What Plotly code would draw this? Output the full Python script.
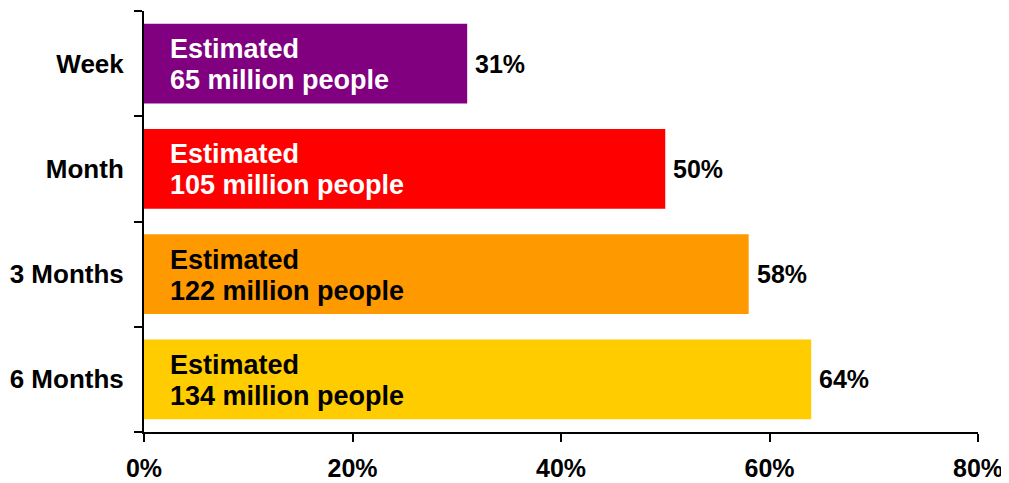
import plotly.graph_objects as go

categories = ["Week", "Month", "3 Months", "6 Months"]
values = [31, 50, 58, 64]
people_millions = [65, 105, 122, 134]
bar_colors = ["#800080", "#FF0000", "#FF9900", "#FFCC00"]
inner_text_colors = ["white", "white", "black", "black"]
x_ticks = [0, 20, 40, 60, 80]

FONT = "Liberation Sans, Arial, sans-serif"

fig = go.Figure()
fig.add_trace(go.Bar(
    y=categories, x=values, orientation="h",
    marker=dict(color=bar_colors, line=dict(width=0)),
    hoverinfo="skip",
))

annotations = []
for cat, v, p, tc in zip(categories, values, people_millions, inner_text_colors):
    for line, ys in (("Estimated", 14.5), (f"{p} million people", -16.5)):
        annotations.append(dict(
            x=0, y=cat, xref="x", yref="y", xanchor="left", yanchor="middle",
            xshift=24, yshift=ys, showarrow=False, align="left",
            text=f"<b>{line}</b>",
            font=dict(family=FONT, size=27, color=tc),
        ))
    annotations.append(dict(
        x=v, y=cat, xref="x", yref="y", xanchor="left", yanchor="middle",
        xshift=6, showarrow=False,
        text=f"<b>{v}%</b>",
        font=dict(family=FONT, size=25, color="black"),
    ))

fig.update_layout(
    width=1001, height=475,
    margin=dict(l=136, r=31, t=3, b=51),
    plot_bgcolor="white", paper_bgcolor="white",
    bargap=0.24,
    showlegend=False,
    annotations=annotations,
    font=dict(family=FONT, size=25, color="black"),
)
fig.update_xaxes(
    range=[0, 80], tickvals=x_ticks, ticktext=[f"<b>{t}%</b>" for t in x_ticks],
    showgrid=False, zeroline=False, showline=True, linecolor="black", linewidth=2,
    ticks="outside", ticklen=8, tickwidth=2, tickcolor="black",
    ticklabelstandoff=5, automargin=False,
    tickfont=dict(family=FONT, size=25, color="black"),
)
fig.update_yaxes(
    categoryorder="array", categoryarray=categories, autorange="reversed",
    tickvals=categories, ticktext=[f"<b>{c}</b>" for c in categories],
    showgrid=False, zeroline=False, showline=True, linecolor="black", linewidth=2,
    ticks="outside", ticklen=8, tickwidth=2, tickcolor="black", tickson="boundaries",
    ticklabelstandoff=13, automargin=False,
    tickfont=dict(family=FONT, size=26, color="black"),
)

fig.write_html("out.html")
